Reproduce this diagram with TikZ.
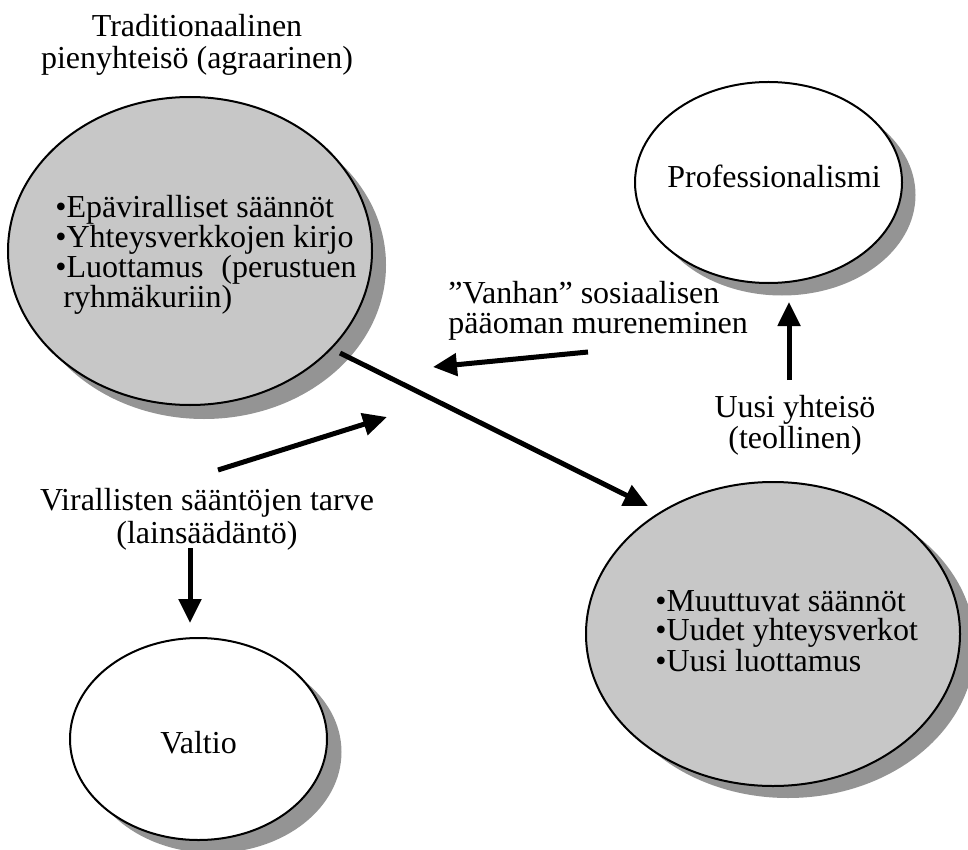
\documentclass[tikz,border=0pt]{standalone}
\usepackage{fontspec}
\setmainfont{Liberation Serif}
\usetikzlibrary{arrows.meta,shapes.geometric}
\definecolor{fillgray}{gray}{0.78}
\definecolor{shadowgray}{gray}{0.58}
\tikzset{
  grayell/.style={shape=ellipse, draw=black, line width=1pt, fill=fillgray, inner sep=0pt},
  whiteell/.style={shape=ellipse, draw=black, line width=1pt, fill=white, inner sep=0pt},
  shad/.style={shape=ellipse, fill=shadowgray, draw=none, inner sep=0pt},
  lbl/.style={inner sep=0pt, font=\fontsize{16}{15}\selectfont},
  arr/.style={line width=2.5pt, -{Triangle[length=12pt,width=11pt]}},
}
\begin{document}
\begin{tikzpicture}[x=0.5pt,y=-0.5pt]
\useasboundingbox (0,0) rectangle (968,850);
% shadows
\node[shad, minimum width=182pt, minimum height=154pt] (lsh) at (204,265) {};
\node[shad, minimum width=133.5pt, minimum height=100.5pt] (psh) at (782,195) {};
\node[shad, minimum width=187pt, minimum height=152pt] (rsh) at (788,646) {};
\node[shad, minimum width=128.5pt, minimum height=101pt] (vsh) at (213,752) {};
% ellipses
\node[grayell, minimum width=182pt, minimum height=154pt] (lell) at (190,251) {};
\node[whiteell, minimum width=133.5pt, minimum height=100.5pt] (pell) at (768.5,182.5) {};
\node[grayell, minimum width=187pt, minimum height=152pt] (rell) at (773,634) {};
\node[whiteell, minimum width=128.5pt, minimum height=101pt] (vell) at (198.5,739) {};
% texts
\node[lbl, font=\fontsize{16}{16}\selectfont, align=center, anchor=north] (title) at (197,14)
  {Traditionaalinen\\pienyhteisö (agraarinen)};
\node[lbl, font=\fontsize{16}{14.9}\selectfont, align=left, anchor=north west] (ltxt) at (55,195)
  {•Epäviralliset säännöt\\•Yhteysverkkojen kirjo\\•Luottamus\hspace{9pt}(perustuen\\\hspace*{4pt}ryhmäkuriin)};
\node[lbl, font=\fontsize{16}{14.5}\selectfont, align=left, anchor=north west] (rtxt) at (655,590)
  {•Muuttuvat säännöt\\•Uudet yhteysverkot\\•Uusi luottamus};
\node[lbl, anchor=base] (ptxt) at (774,188) {Professionalismi};
\node[lbl, anchor=base] (vtxt) at (198.5,753) {Valtio};
\node[lbl, font=\fontsize{16}{15}\selectfont, align=left, anchor=north west] (vanh) at (448,281)
  {”Vanhan” sosiaalisen\\pääoman mureneminen};
\node[lbl, font=\fontsize{16}{14}\selectfont, align=center, anchor=north] (uusi) at (795,395)
  {Uusi yhteisö\\(teollinen)};
\node[lbl, font=\fontsize{16}{16.5}\selectfont, align=center, anchor=north] (vir) at (207,488)
  {Virallisten sääntöjen tarve\\(lainsäädäntö)};
% arrow end points
\coordinate (vA) at (588,352);
\coordinate (vB) at (433,367);
\coordinate (dA) at (340,353);
\coordinate (dB) at (648,506);
\coordinate (rA) at (218,470);
\coordinate (rB) at (387,417);
\coordinate (sA) at (190,548);
\coordinate (sB) at (190,623);
\coordinate (uA) at (789,380);
\coordinate (uB) at (789,302);
% arrows
\draw[arr] (vA) -- (vB);
\draw[arr] (dA) -- (dB);
\draw[arr] (rA) -- (rB);
\draw[arr] (sA) -- (sB);
\draw[arr] (uA) -- (uB);
\end{tikzpicture}
\end{document}
